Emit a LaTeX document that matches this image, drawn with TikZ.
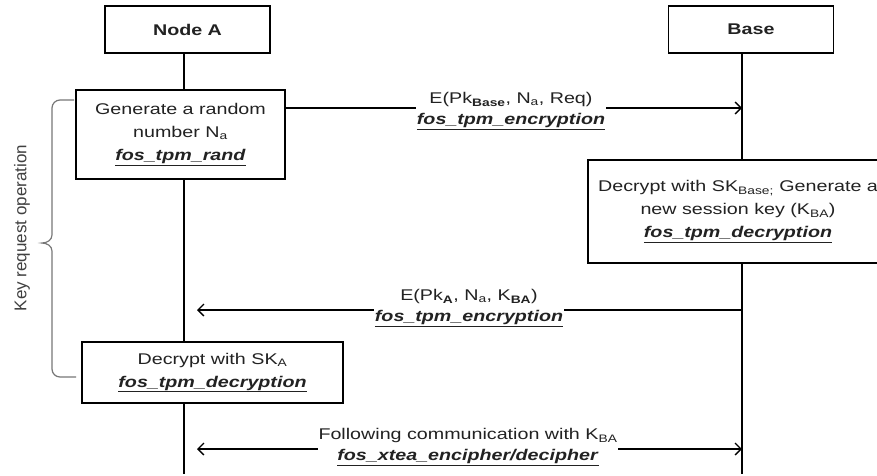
\documentclass[tikz,border=0pt]{standalone}
\usepackage{fontspec}
\setmainfont{Liberation Sans}[FakeStretch=1.27]
\newfontfamily\plainsans{Liberation Sans}
\usetikzlibrary{arrows.meta,calc,backgrounds}
\newcommand{\fnname}[1]{\underline{\textbf{\textit{#1}}}}
\definecolor{txt}{HTML}{222222}
\definecolor{brc}{HTML}{777777}
\tikzset{
  base/.style={font=\fontsize{15.5}{23}\selectfont, text=txt},
  headbox/.style={base, draw, line width=1.3pt, fill=white, font=\fontsize{15.5}{23}\selectfont\bfseries, minimum width=165pt, minimum height=47pt},
  opbox/.style={base, draw, line width=1.3pt, fill=white, align=center, inner sep=2pt},
  msg/.style={base, fill=white, align=center, inner xsep=1pt, inner ysep=0pt, font=\fontsize{15.5}{20.5}\selectfont},
  lifeline/.style={line width=1.3pt},
  msgarrow/.style={line width=1.3pt, -{Straight Barb[length=6pt,width=12pt,line width=1.3pt]}},
  dblarrow/.style={line width=1.3pt, {Straight Barb[length=6pt,width=12pt,line width=1.3pt]}-{Straight Barb[length=6pt,width=12pt,line width=1.3pt]}},
  bracestyle/.style={line width=1.2pt, draw=brc},
  sidelabel/.style={rotate=90, text=black!75, font=\plainsans\fontsize{17}{20}\selectfont}
}
\begin{document}
\begin{tikzpicture}[x=1pt,y=-1pt]
\useasboundingbox (0,0) rectangle (877,475);
\clip (0,0) rectangle (877,475);

% heads
\node[headbox] (A) at (187.5,29.5) {Node A};
\node[headbox] (B) at (751,29.5) {Base};

% lifeline ends
\coordinate (Aend) at (184,474);
\coordinate (Bend) at (742,474);
\coordinate (y1) at (0,108);
\coordinate (y2) at (0,310);
\coordinate (y3) at (0,449);

% operation boxes
\node[opbox, minimum width=209pt, minimum height=89pt] (gen) at (180.5,134.5)
  {Generate a random\\number N\textsubscript{a}\\\fnname{fos\_tpm\_rand}};
\node[opbox, minimum width=340pt, minimum height=103pt] (dec) at (758,211.5)
  {\hspace*{-40pt}\parbox{284pt}{\centering Decrypt with SK\textsubscript{Base;} Generate a\\new session key (K\textsubscript{BA})\\\fnname{fos\_tpm\_decryption}}};
\node[opbox, minimum width=261pt, minimum height=61pt] (decA) at (212.5,372.5)
  {Decrypt with SK\textsubscript{A}\\\fnname{fos\_tpm\_decryption}};

\begin{scope}[on background layer]
  \fill[white] (0,0) rectangle (877,475);
  \draw[lifeline] (A.south -| Aend) -- (Aend);
  \draw[lifeline] (B.south -| Bend) -- (Bend);
\end{scope}

% messages
\draw[msgarrow] (gen.east |- y1) -- (Bend |- y1);
\node[msg] (l1) at (511,111)
  {E(Pk\textsubscript{\textbf{Base}}, N\textsubscript{a}, Req)\\\fnname{fos\_tpm\_encryption}};

\draw[msgarrow] (Bend |- y2) -- ($(Aend |- y2)+(13,0)$);
\node[msg] (l2) at (469,308)
  {E(Pk\textsubscript{\textbf{A}}, N\textsubscript{a}, K\textsubscript{\textbf{BA}})\\\fnname{fos\_tpm\_encryption}};

\draw[dblarrow] ($(Aend |- y3)+(13,0)$) -- (Bend |- y3);
\node[msg] (l3) at (468,447)
  {Following communication with K\textsubscript{BA}\\\fnname{fos\_xtea\_encipher/decipher}};

% brace
\draw[bracestyle] (74,100) -- (60,100) to[out=180,in=90] (52,108) -- (52,235)
  to[out=-90,in=0] (42,243) to[out=0,in=90] (52,251) -- (52,369)
  to[out=-90,in=180] (60,377) -- (76,377);
\node[sidelabel] (krl) at (22,228) {Key request operation};
\end{tikzpicture}
\end{document}
